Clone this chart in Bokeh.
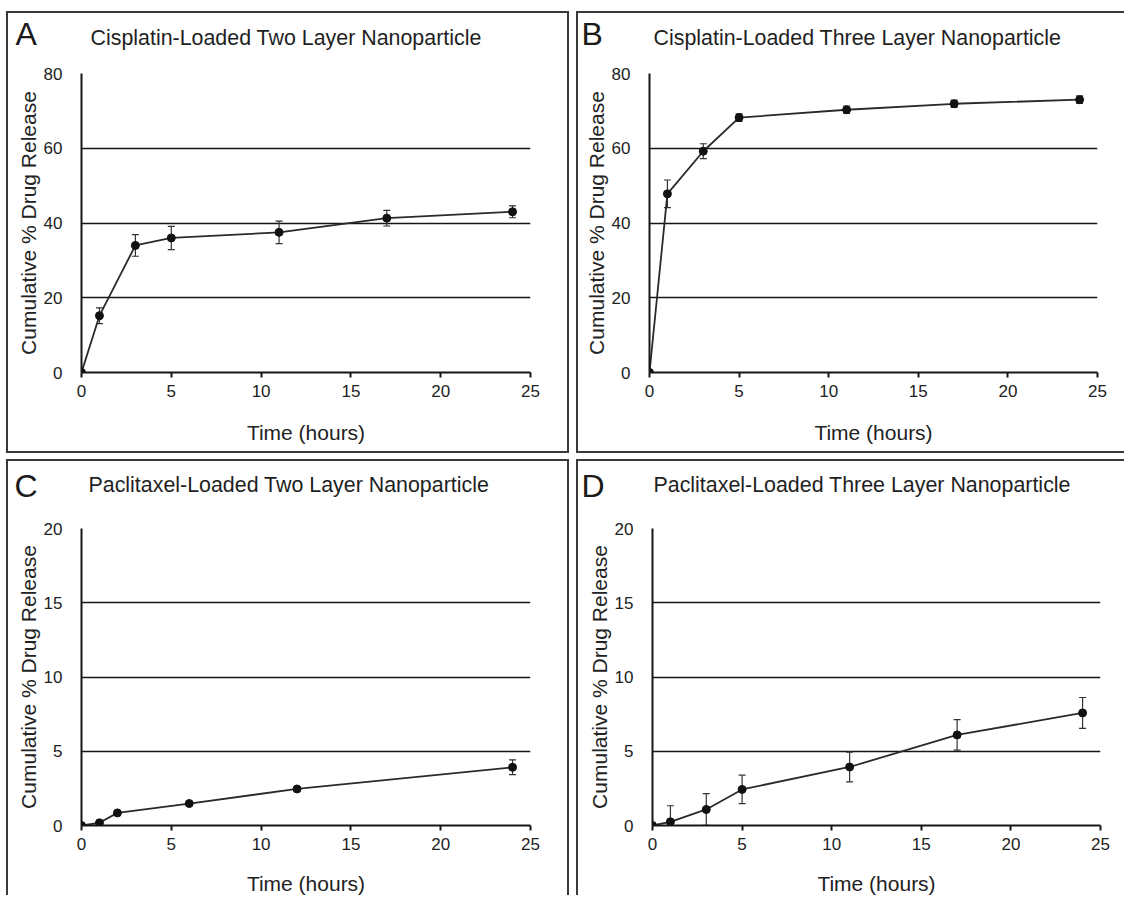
from bokeh.plotting import figure
from bokeh.models import Range1d, FixedTicker, Whisker, TeeHead, ColumnDataSource, Label
from bokeh.layouts import row, column
from bokeh.embed import file_html
from bokeh.resources import INLINE

FONT = "Liberation Sans"

# ---- data ----
time_a = [0, 1, 3, 5, 11, 17, 24]
release_a = [0, 15.2, 34.0, 36.0, 37.5, 41.3, 43.0]
err_a = [0, 2.1, 2.9, 3.1, 3.0, 2.1, 1.6]

time_b = [0, 1, 3, 5, 11, 17, 24]
release_b = [0, 47.8, 59.2, 68.2, 70.3, 71.9, 73.0]
err_b = [0, 3.7, 2.0, 1.0, 1.0, 1.0, 1.0]

time_c = [0, 1, 2, 6, 12, 24]
release_c = [0, 0.18, 0.85, 1.48, 2.46, 3.92]
err_c = [0, 0, 0, 0, 0, 0.5]

time_d = [0, 1, 3, 5, 11, 17, 24]
release_d = [0, 0.25, 1.08, 2.43, 3.94, 6.1, 7.58]
err_d = [0, 1.08, 1.07, 0.96, 1.0, 1.03, 1.04]

letters = ["A", "B", "C", "D"]
titles = [
    "Cisplatin-Loaded Two Layer Nanoparticle",
    "Cisplatin-Loaded Three Layer Nanoparticle",
    "Paclitaxel-Loaded Two Layer Nanoparticle",
    "Paclitaxel-Loaded Three Layer Nanoparticle",
]
x_ticks = [0, 5, 10, 15, 20, 25]
y_ticks_cis = [0, 20, 40, 60, 80]
y_ticks_pac = [0, 5, 10, 15, 20]
x_label = "Time (hours)"
y_label = "Cumulative % Drug Release"

BORDER = "2px solid #3a3a3a"


def make_panel(idx, xs, ys, errs, ymax, yticks, width, height, mb_left, mb_top,
               frame_w, frame_h, letter_pos, title_pos, borders, xlabel_standoff):
    p = figure(width=width, height=height, output_backend="svg", toolbar_location=None,
               x_range=Range1d(0, 25), y_range=Range1d(0, ymax),
               min_border_left=mb_left, min_border_top=mb_top,
               min_border_right=width - mb_left - frame_w,
               min_border_bottom=height - mb_top - frame_h,
               background_fill_color="white", border_fill_color="white")
    p.outline_line_color = None
    p.xgrid.visible = False
    p.ygrid.ticker = FixedTicker(ticks=yticks)
    p.ygrid.grid_line_color = "#161616"
    p.ygrid.grid_line_width = 1.6

    xa = p.xaxis[0]
    xa.ticker = FixedTicker(ticks=x_ticks)
    xa.axis_line_color = "#161616"
    xa.axis_line_width = 2
    xa.major_tick_line_color = "#161616"
    xa.major_tick_line_width = 2
    xa.major_tick_out = 5
    xa.major_tick_in = 0
    xa.minor_tick_line_color = None
    xa.major_label_text_font = FONT
    xa.major_label_text_font_size = "17px"
    xa.major_label_text_color = "#222222"
    xa.major_label_standoff = 7
    xa.axis_label = x_label
    xa.axis_label_text_font = FONT
    xa.axis_label_text_font_size = "21px"
    xa.axis_label_text_font_style = "normal"
    xa.axis_label_text_color = "#222222"
    xa.axis_label_standoff = xlabel_standoff

    ya = p.yaxis[0]
    ya.ticker = FixedTicker(ticks=yticks)
    ya.axis_line_color = "#161616"
    ya.axis_line_width = 2
    ya.major_tick_out = 0
    ya.major_tick_in = 0
    ya.minor_tick_line_color = None
    ya.major_label_text_font = FONT
    ya.major_label_text_font_size = "17px"
    ya.major_label_text_color = "#222222"
    ya.major_label_standoff = 19
    ya.axis_label = y_label
    ya.axis_label_text_font = FONT
    ya.axis_label_text_font_size = "21px"
    ya.axis_label_text_font_style = "normal"
    ya.axis_label_text_color = "#222222"
    ya.axis_label_standoff = 1

    lower = [y - e for y, e in zip(ys, errs)]
    upper = [y + e for y, e in zip(ys, errs)]
    src = ColumnDataSource(dict(x=xs, y=ys, lower=lower, upper=upper))

    p.line("x", "y", source=src, line_color="#2a2a2a", line_width=1.8)
    w = Whisker(base="x", lower="lower", upper="upper", source=src,
                line_color="#333333", line_width=1.2,
                upper_head=TeeHead(size=7, line_color="#333333", line_width=1.2),
                lower_head=TeeHead(size=7, line_color="#333333", line_width=1.2))
    p.add_layout(w)
    p.scatter("x", "y", source=src, size=8, fill_color="#111111", line_color="#111111")

    # title first (slot nearest the frame), then the panel letter
    p.add_layout(Label(x=title_pos[0], y=title_pos[1], x_units="screen", y_units="screen",
                       text=titles[idx], text_font=FONT, text_font_size="21.4px",
                       text_line_height=1.0,
                       text_color="#1f1f1f", text_align="left", text_baseline="alphabetic"),
                 "above")
    p.add_layout(Label(x=letter_pos[0], y=letter_pos[1], x_units="screen", y_units="screen",
                       text=letters[idx], text_font=FONT, text_font_size="32px",
                       text_line_height=1.0,
                       text_color="#1a1a1a", text_align="left", text_baseline="alphabetic"),
                 "above")

    st = {"border-left": BORDER, "border-top": BORDER}
    if "r" in borders:
        st["border-right"] = BORDER
    if "b" in borders:
        st["border-bottom"] = BORDER
    p.styles = st
    return p


pa = make_panel(0, time_a, release_a, err_a, 80, y_ticks_cis, 563, 442, 73, 60, 449, 299,
                (-66, 16), (9, 36), "rb", 21)
pb = make_panel(1, time_b, release_b, err_b, 80, y_ticks_cis, 548, 442, 71, 60, 448, 299,
                (-68, 16), (4, 36), "b", 21)
pc = make_panel(2, time_c, release_c, err_c, 20, y_ticks_pac, 563, 436, 73, 67, 449, 298,
                (-67, 19), (7, 44), "r", 19)
pd = make_panel(3, time_d, release_d, err_d, 20, y_ticks_pac, 548, 436, 74, 67, 448, 298,
                (-71, 19), (1, 44), "", 19)

layout = column(row(pa, pb, spacing=7), row(pc, pd, spacing=7), spacing=6,
                margin=(11, 0, 0, 6))

open("out.html", "w").write(file_html(layout, INLINE))
